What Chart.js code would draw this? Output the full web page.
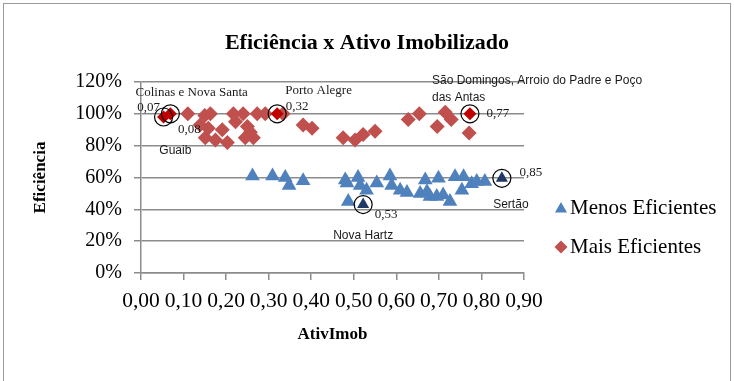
<!DOCTYPE html>
<html lang="pt">
<head>
<meta charset="utf-8">
<script src="https://cdn.jsdelivr.net/npm/chart.js@4.4.1/dist/chart.umd.min.js"></script>
<style>
  html, body { margin: 0; padding: 0; background: #fff; }
  #wrap { width: 734px; height: 381px; }
</style>
</head>
<body>
<div id="wrap"><canvas id="grafico" width="734" height="381"></canvas></div>
<script>
// Eficiência x Ativo Imobilizado — dispersão, dois grupos + municípios destacados

// ── Dados ────────────────────────────────────────────────────────────────────
const menosX = [0.262, 0.309, 0.339, 0.348, 0.381, 0.480, 0.484, 0.510, 0.515, 0.530,
                0.554, 0.585, 0.589, 0.487, 0.609, 0.625, 0.668, 0.656, 0.672, 0.679,
                0.699, 0.695, 0.710, 0.726, 0.738, 0.758, 0.754, 0.777, 0.789, 0.808];
const menosY = [61, 61, 60, 55, 58, 58.5, 56.5, 60, 55, 52,
                56.5, 61, 55, 45, 52, 50.5, 58.5, 50, 51, 48,
                59.5, 48, 49, 45, 60.5, 60.5, 52, 56, 57.5, 57.5];

const maisX = [0.110, 0.150, 0.163, 0.139, 0.151, 0.175, 0.158, 0.203, 0.191, 0.217,
               0.222, 0.240, 0.250, 0.245, 0.257, 0.264, 0.273, 0.292, 0.334, 0.381,
               0.402, 0.475, 0.503, 0.522, 0.550, 0.628, 0.654, 0.696, 0.715, 0.729, 0.771];
const maisY = [100, 99, 100, 93, 85, 83.5, 91, 82, 90, 100,
               95, 100, 92, 85, 88.5, 85, 100, 100, 100, 93,
               91, 85, 83.5, 87, 89, 96.5, 100, 92, 101, 96.5, 88];

// municípios destacados (circulados)
const destaqueX     = [0.053, 0.069, 0.32, 0.773, 0.522, 0.848];
const destaqueY     = [98, 100, 100, 100, 43, 59.5];
const destaqueSerie = ['mais', 'mais', 'mais', 'mais', 'menos', 'menos'];
const destaqueValor = ['0,07', '0,08', '0,32', '0,77', '0,53', '0,85'];
const destaqueNome  = ['Colinas e Nova Santa', 'Guaib', 'Porto Alegre',
                       'São Domingos, Arroio do Padre e Poço das Antas', 'Nova Hartz', 'Sertão'];

const titulo   = 'Eficiência x Ativo Imobilizado';
const tituloX  = 'AtivImob';
const tituloY  = 'Eficiência';
const legendas = ['Menos Eficientes', 'Mais Eficientes'];

// ── Estilo ───────────────────────────────────────────────────────────────────
const SERIF = "'Liberation Serif', 'Times New Roman', serif";
const SANS  = "'Liberation Sans', Arial, sans-serif";
const COR_MENOS = '#4F81BD';
const COR_MAIS  = '#C0504D';
const COR_GRADE = '#8C8C8C';

// posição dos rótulos em relação ao ponto (dx, dy, alinhamento, fonte)
const posValor = [[-15, -9], [19, 16], [20, -7], [28, 0], [23, 10], [29, -6]];
const posNome  = [
  [-28, -24, 'left', SERIF],
  [5, 37, 'center', SANS],
  [8, -23, 'left', SERIF],
  [-38, -33, 'left', SANS],
  [0, 31, 'center', SANS],
  [9, 26, 'center', SANS],
];

const pontos = (xs, ys) => xs.map((x, i) => ({ x, y: ys[i] }));
const filtra = (serie) => destaqueX
  .map((x, i) => ({ x, y: destaqueY[i], s: destaqueSerie[i] }))
  .filter((p) => p.s === serie);

// desenho de marcador (triângulo / losango)
function marcador(ctx, estilo, x, y, r) {
  ctx.beginPath();
  if (estilo === 'triangle') {
    ctx.moveTo(x, y - r);
    ctx.lineTo(x + r * 0.866, y + r * 0.5);
    ctx.lineTo(x - r * 0.866, y + r * 0.5);
  } else {
    ctx.moveTo(x, y - r);
    ctx.lineTo(x + r, y);
    ctx.lineTo(x, y + r);
    ctx.lineTo(x - r, y);
  }
  ctx.closePath();
  ctx.fill();
}

// quebra de linha simples
function linhas(ctx, texto, largura) {
  const palavras = texto.split(' ');
  const out = [];
  let atual = '';
  palavras.forEach((p) => {
    const teste = atual ? atual + ' ' + p : p;
    if (ctx.measureText(teste).width > largura && atual) {
      out.push(atual);
      atual = p;
    } else {
      atual = teste;
    }
  });
  out.push(atual);
  return out;
}

// ── Plugins ──────────────────────────────────────────────────────────────────
const moldura = {
  id: 'moldura',
  beforeDraw(chart) {
    const { ctx, width, height } = chart;
    ctx.save();
    ctx.fillStyle = '#fff';
    ctx.fillRect(0, 0, width, height);
    ctx.strokeStyle = '#9A9A9A';
    ctx.lineWidth = 1;
    ctx.strokeRect(3.5, 3.5, width - 7, height + 10);
    ctx.restore();
  },
};

const rotulos = {
  id: 'rotulos',
  afterDatasetsDraw(chart) {
    const { ctx } = chart;
    const meta = chart.getDatasetMeta(4);
    ctx.save();
    ctx.fillStyle = '#1a1a1a';
    ctx.textBaseline = 'middle';
    meta.data.forEach((el, i) => {
      const [vx, vy] = posValor[i];
      ctx.font = `13px ${SERIF}`;
      ctx.textAlign = 'center';
      ctx.fillText(destaqueValor[i], el.x + vx, el.y + vy);

      const [nx, ny, al, fonte] = posNome[i];
      ctx.font = fonte === SANS ? `12px ${SANS}` : `13px ${SERIF}`;
      ctx.textAlign = al;
      linhas(ctx, destaqueNome[i], 222).forEach((l, k) => {
        ctx.fillText(l, el.x + nx, el.y + ny + k * 17);
      });
    });
    ctx.restore();
  },
};

const tituloLegenda = {
  id: 'tituloLegenda',
  afterDraw(chart) {
    const { ctx, width, chartArea } = chart;
    ctx.save();
    ctx.fillStyle = '#000';
    ctx.textBaseline = 'middle';
    ctx.textAlign = 'center';
    ctx.font = `bold 22px ${SERIF}`;
    ctx.fillText(titulo, width / 2, 43);

    // legenda à direita
    const estilos = ['triangle', 'rectRot'];
    const raios = [7, 6.5];
    ctx.font = `21px ${SERIF}`;
    ctx.textAlign = 'left';
    [0, 1].forEach((d, i) => {
      const y = chartArea.top + 126 + i * 39;
      const x = chartArea.right + 37;
      ctx.fillStyle = chart.data.datasets[d].backgroundColor;
      marcador(ctx, estilos[i], x, y + (i === 0 ? 1 : 0), raios[i]);
      ctx.fillStyle = '#000';
      ctx.fillText(chart.data.datasets[d].label, x + 9, y);
    });
    ctx.restore();
  },
};

// ── Gráfico ──────────────────────────────────────────────────────────────────
new Chart(document.getElementById('grafico'), {
  type: 'scatter',
  data: {
    datasets: [
      {
        label: legendas[0],
        data: pontos(menosX, menosY),
        backgroundColor: COR_MENOS,
        pointStyle: 'triangle',
        pointRadius: 8.5,
        pointBorderWidth: 0,
        borderColor: COR_MENOS,
        order: 3,
      },
      {
        label: legendas[1],
        data: pontos(maisX, maisY),
        backgroundColor: COR_MAIS,
        pointStyle: 'rectRot',
        pointRadius: 7.5,
        pointBorderWidth: 0,
        borderColor: COR_MAIS,
        order: 3,
      },
      {
        label: '_destaque_mais',
        data: filtra('mais'),
        backgroundColor: '#C00000',
        pointStyle: 'rectRot',
        pointRadius: 6.5,
        pointBorderWidth: 0,
        order: 2,
      },
      {
        label: '_destaque_menos',
        data: filtra('menos'),
        backgroundColor: '#1F3864',
        pointStyle: 'triangle',
        pointRadius: 7,
        pointBorderWidth: 0,
        order: 2,
      },
      {
        label: '_circulos',
        data: pontos(destaqueX, destaqueY),
        backgroundColor: 'rgba(0,0,0,0)',
        borderColor: '#000',
        pointStyle: 'circle',
        pointRadius: 9,
        pointBorderWidth: 1.2,
        order: 1,
      },
    ],
  },
  options: {
    responsive: false,
    animation: false,
    layout: { padding: { left: 0, right: 210, top: 82, bottom: 0 } },
    plugins: {
      legend: { display: false },
      title: { display: false },
      tooltip: { enabled: false },
    },
    scales: {
      x: {
        type: 'linear',
        min: 0,
        max: 0.9,
        afterFit: (s) => { s.height = 108; },
        ticks: {
          stepSize: 0.1,
          color: '#000',
          font: { family: SERIF, size: 21.5 },
          padding: 8,
          maxRotation: 0,
          autoSkip: false,
          callback: (v) => v.toFixed(2).replace('.', ','),
        },
        grid: { drawOnChartArea: false, drawTicks: true, tickLength: 7, color: COR_GRADE, lineWidth: 1.5 },
        border: { display: true, color: COR_GRADE, width: 1.5 },
        title: {
          display: true,
          text: tituloX,
          color: '#000',
          font: { family: SERIF, size: 17, weight: 'bold', lineHeight: 1.2 },
          padding: { top: 0, bottom: 36 },
        },
      },
      y: {
        min: 0,
        max: 120,
        afterFit: (s) => { s.width = 141; },
        ticks: {
          stepSize: 20,
          color: '#000',
          font: { family: SERIF, size: 20 },
          padding: 12,
          callback: (v) => v + '%',
        },
        grid: { color: COR_GRADE, lineWidth: 1.5, tickLength: 7 },
        border: { display: true, color: COR_GRADE, width: 1.5 },
        title: {
          display: true,
          text: tituloY,
          color: '#000',
          font: { family: SERIF, size: 17, weight: 'bold', lineHeight: 1.2 },
          padding: { top: 30, bottom: 0 },
        },
      },
    },
  },
  plugins: [moldura, rotulos, tituloLegenda],
});
</script>
</body>
</html>
